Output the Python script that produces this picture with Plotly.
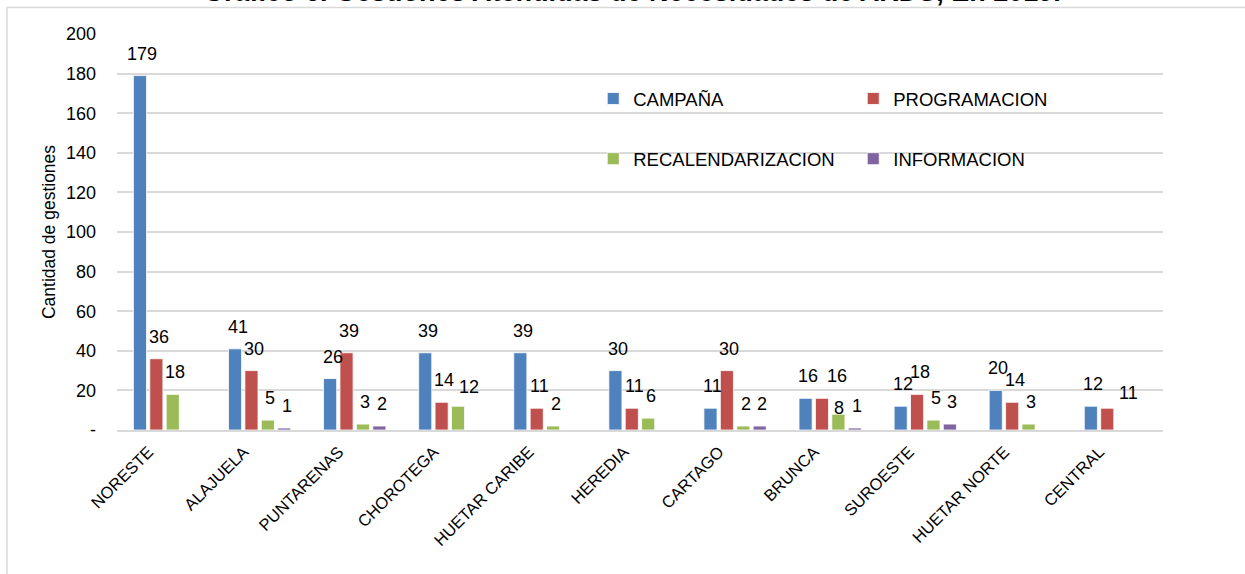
import plotly.graph_objects as go

regions = ["NORESTE", "ALAJUELA", "PUNTARENAS", "CHOROTEGA", "HUETAR CARIBE", "HEREDIA",
           "CARTAGO", "BRUNCA", "SUROESTE", "HUETAR NORTE", "CENTRAL"]
campana = [179, 41, 26, 39, 39, 30, 11, 16, 12, 20, 12]
programacion = [36, 30, 39, 14, 11, 11, 30, 16, 18, 14, 11]
recalendarizacion = [18, 5, 3, 12, 2, 6, 2, 8, 5, 3, None]
informacion = [None, 1, 2, None, None, None, 2, 1, 3, None, None]

y_ticks = [0, 20, 40, 60, 80, 100, 120, 140, 160, 180, 200]
y_tick_text = ["-"] + [str(v) for v in y_ticks[1:]]

series = [
    ("CAMPAÑA", campana, "#4F81BD", "legend"),
    ("PROGRAMACION", programacion, "#C0504D", "legend"),
    ("RECALENDARIZACION", recalendarizacion, "#9BBB59", "legend2"),
    ("INFORMACION", informacion, "#8064A2", "legend2"),
]

# a few labels were pushed aside in the original to avoid collisions (pixels)
label_nudge = {
    ("RECALENDARIZACION", "CHOROTEGA"): (8, -3),
    ("PROGRAMACION", "BRUNCA"): (13, 0),
    ("RECALENDARIZACION", "BRUNCA"): (-2, -16),
    ("PROGRAMACION", "CENTRAL"): (19, -7),
}

font = "Liberation Sans, Arial, sans-serif"

fig = go.Figure()
labels = []
slot = 16.4  # pixel width of one bar slot inside a group
for i, (name, vals, color, leg) in enumerate(series):
    fig.add_trace(go.Bar(
        x=regions, y=vals, name=name,
        marker=dict(color=color, line=dict(color="white", width=0.8)),
        legend=leg,
    ))
    # value labels, lifted a bit above the bar like the Excel original
    for reg, v in zip(regions, vals):
        if v is None:
            continue
        dx, dy = label_nudge.get((name, reg), (0, 0))
        labels.append(dict(
            x=reg, y=v, text=str(v), xref="x", yref="y",
            xanchor="center", yanchor="bottom", showarrow=False,
            xshift=(i - 1.5) * slot + 2.5 + dx, yshift=10 + dy,
            font=dict(size=18, color="#000000", family=font),
        ))

labels.append(dict(
    text="<b>Gráfico 6. Gestiones Atendidas de Necesidades de ARDS, En 2019.</b>",
    xref="paper", yref="paper", x=0.4925, y=1.0632, xanchor="center", yanchor="bottom",
    showarrow=False, font=dict(size=27, family=font, color="#000000"),
))

fig.update_layout(
    width=1245, height=574,
    margin=dict(l=117, r=82, t=34, b=144),
    plot_bgcolor="white", paper_bgcolor="white",
    font=dict(family=font, color="#000000"),
    barmode="group", bargap=0.31, bargroupgap=0.2,
    showlegend=True,
    legend=dict(orientation="h", x=0.4553, y=0.836, xanchor="left", yanchor="middle",
                entrywidth=215, entrywidthmode="pixels",
                font=dict(size=18.5, family=font), bgcolor="rgba(0,0,0,0)"),
    legend2=dict(orientation="h", x=0.4553, y=0.684, xanchor="left", yanchor="middle",
                 entrywidth=215, entrywidthmode="pixels",
                 font=dict(size=18.5, family=font), bgcolor="rgba(0,0,0,0)"),
    xaxis=dict(tickangle=-45, tickfont=dict(size=16.5), showgrid=False,
               showline=True, linecolor="#D9D9D9", linewidth=1.5, ticks="",
               ticklabelshift=-16, ticklabelstandoff=4),
    yaxis=dict(range=[0, 200], tickvals=y_ticks, ticktext=y_tick_text,
               tickfont=dict(size=18), showgrid=True, gridcolor="#D9D9D9", gridwidth=1.5,
               zeroline=False, ticks="", ticklen=0, ticklabelstandoff=20,
               title=dict(text="Cantidad de gestiones", font=dict(size=17.5), standoff=5)),
    annotations=labels,
    shapes=[dict(type="rect", xref="paper", yref="paper",
                 x0=-0.1052, x1=1.2, y0=-0.5, y1=1.0669,
                 line=dict(color="#D9D9D9", width=1.5), layer="below")],
)

fig.write_html("out.html", config={"displayModeBar": False},
               post_script="document.body.style.margin='0';")
